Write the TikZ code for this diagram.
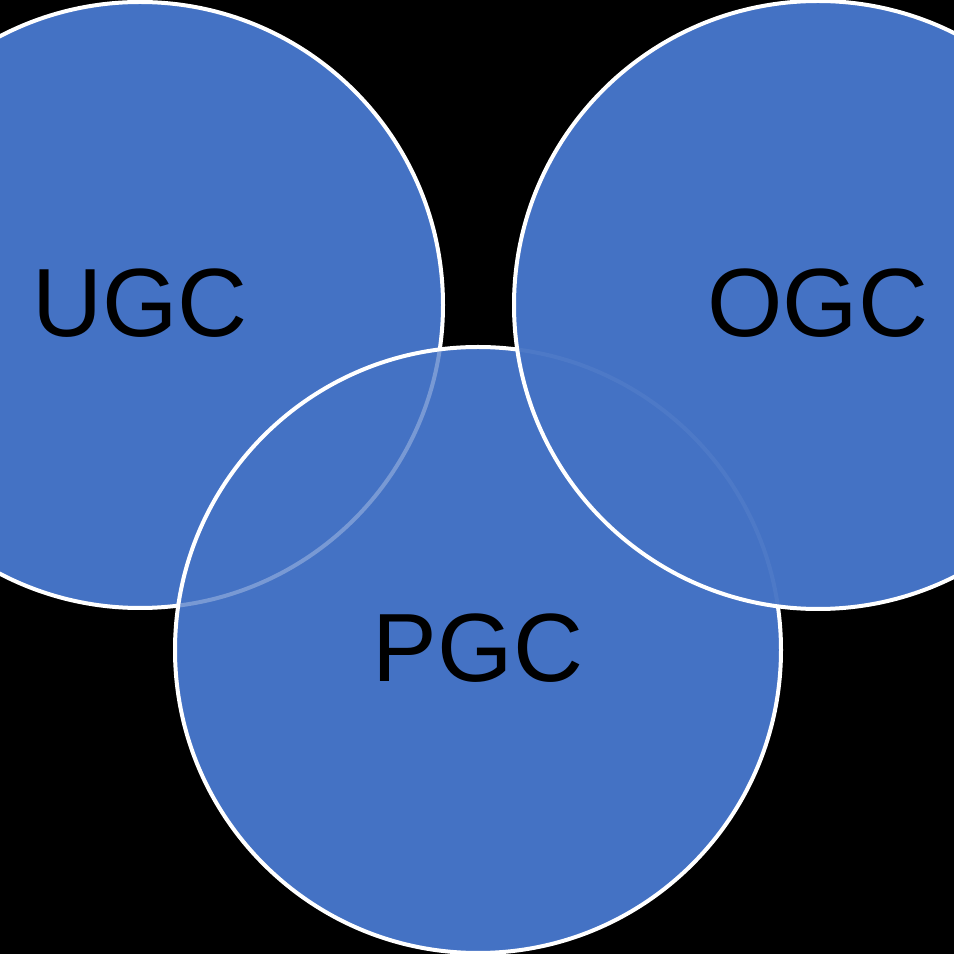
\documentclass[tikz,border=0pt]{standalone}
\usepackage{fontspec}
\setmainfont{Liberation Sans}
\definecolor{setblue}{HTML}{4472C4}
\tikzset{
  setcircle/.style={circle, draw=white, line width=4pt, fill=setblue,
    minimum size=606pt, inner sep=0pt, text=black,
    font=\fontsize{97}{110}\selectfont},
  hiddenarc/.style={draw=white, line width=4pt}
}
\begin{document}
\begin{tikzpicture}[x=1pt,y=1pt]
        \useasboundingbox (0,0) rectangle (954,954);
        \clip (0,0) rectangle (954,954);
        \fill[black] (0,0) rectangle (954,954);

        \node[setcircle] at (140,649) (UGC) {\raisebox{4pt}{UGC}};
        \node[setcircle] at (478,304) (PGC) {\raisebox{4pt}{PGC}};
        % UGC outline seen through PGC
        \begin{scope}
          \clip (PGC.center) circle (301pt);
          \path[hiddenarc, draw opacity=0.28] (UGC.center) circle (303pt);
        \end{scope}
        \node[setcircle, minimum size=608pt] at (818,649) (OGC) {\raisebox{4pt}{OGC}};
        % PGC outline seen through OGC
        \begin{scope}
          \clip (OGC.center) circle (302pt);
          \path[hiddenarc, draw opacity=0.05] (PGC.center) circle (303pt);
        \end{scope}
            \end{tikzpicture}
\end{document}
